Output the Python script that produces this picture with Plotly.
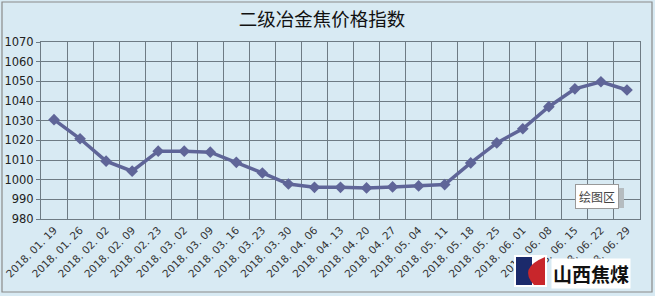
import plotly.graph_objects as go

dates = ["2018. 01. 19", "2018. 01. 26", "2018. 02. 02", "2018. 02. 09", "2018. 02. 23",
         "2018. 03. 02", "2018. 03. 09", "2018. 03. 16", "2018. 03. 23", "2018. 03. 30",
         "2018. 04. 06", "2018. 04. 13", "2018. 04. 20", "2018. 04. 27", "2018. 05. 04",
         "2018. 05. 11", "2018. 05. 18", "2018. 05. 25", "2018. 06. 01", "2018. 06. 08",
         "2018. 06. 15", "2018. 06. 22", "2018. 06. 29"]
index_values = [1030.5, 1020.8, 1009.4, 1004.3, 1014.5, 1014.5, 1014.0, 1008.8, 1003.4, 997.8,
                996.1, 996.1, 995.8, 996.3, 996.8, 997.5, 1008.5, 1018.7, 1025.9, 1037.1,
                1046.2, 1049.8, 1045.6]
y_ticks = [980, 990, 1000, 1010, 1020, 1030, 1040, 1050, 1060, 1070]

W, H = 655, 296
L, R, T, B = 41, 15, 42, 77

def px(x):
    return (x - L) / (W - L - R)

def py(y):
    return (H - B - y) / (H - T - B)

fig = go.Figure()
fig.add_trace(go.Scatter(
    x=dates, y=index_values, mode="lines+markers",
    line=dict(color="#5F6598", width=3.5),
    marker=dict(symbol="diamond", size=9, color="#5F6598"),
    showlegend=False, hoverinfo="skip"))

fig.update_layout(
    width=W, height=H,
    margin=dict(l=L, r=R, t=T, b=B),
    paper_bgcolor="#D8EAF3", plot_bgcolor="#D8EAF3",
    title=dict(text="二级冶金焦价格指数", x=322 / W, xref="container", xanchor="center",
               y=1 - 20 / H, yref="container", yanchor="middle",
               font=dict(family="Noto Sans CJK SC", size=18.5, color="#111111")),
    font=dict(family="DejaVu Sans", size=11, color="#222222"),
)
fig.update_xaxes(
    type="category", range=[-0.5, len(dates) - 0.5], tickson="boundaries",
    showgrid=True, gridcolor="#6E7B84", gridwidth=1,
    showline=True, linecolor="#6E7B84", mirror=True, automargin=False,
    ticks="", tickangle=-45, tickfont=dict(size=10.5, family="DejaVu Sans", color="#333333"),
)
fig.update_yaxes(
    range=[980, 1070], tickvals=y_ticks, showgrid=True, gridcolor="#6E7B84", gridwidth=1,
    showline=True, linecolor="#6E7B84", mirror=True, zeroline=False, automargin=False,
    ticks="outside", ticklen=4, tickcolor="#6E7B84",
    tickfont=dict(size=11.5, family="DejaVu Sans", color="#222222"),
)

# outer chart border
fig.add_shape(type="rect", xref="paper", yref="paper",
              x0=px(2), x1=px(652), y0=py(292), y1=py(2),
              line=dict(color="#8A8A8A", width=1.2), layer="below")

# "绘图区" tooltip
fig.add_shape(type="rect", xref="paper", yref="paper",
              x0=px(575), x1=px(624), y0=py(208), y1=py(188),
              fillcolor="#B5BCC0", line=dict(width=0))
fig.add_annotation(x=px(597), y=py(196), xref="paper", yref="paper",
                   xanchor="center", yanchor="middle",
                   text="绘图区", showarrow=False,
                   font=dict(family="Noto Sans CJK SC", size=12, color="#444444"),
                   bgcolor="#FFFFFF", bordercolor="#999999", borderwidth=1, borderpad=3)

# logo
fig.add_shape(type="rect", xref="paper", yref="paper",
              x0=px(514), x1=px(547), y0=py(287), y1=py(255),
              fillcolor="#FFFFFF", line=dict(width=0))
fig.add_shape(type="rect", xref="paper", yref="paper",
              x0=px(516), x1=px(532), y0=py(285), y1=py(257),
              fillcolor="#1B2A6B", line=dict(width=0))
red_path = "M {a},{b} Q {c},{d} {e},{f} L {g},{h} L {i},{j} Z".format(
    a=px(545), b=py(257), c=px(518), d=py(268), e=px(534), f=py(285),
    g=px(545), h=py(285), i=px(545), j=py(257))
fig.add_shape(type="path", xref="paper", yref="paper", path=red_path,
              fillcolor="#C8262B", line=dict(width=0))
fig.add_annotation(x=px(591), y=py(273), xref="paper", yref="paper",
                   xanchor="center", yanchor="middle",
                   text="<b>山西焦煤</b>", showarrow=False,
                   font=dict(family="Noto Sans CJK SC", size=19, color="#111111"),
                   bgcolor="#FFFFFF", borderpad=1)

fig.write_html("out.html")
